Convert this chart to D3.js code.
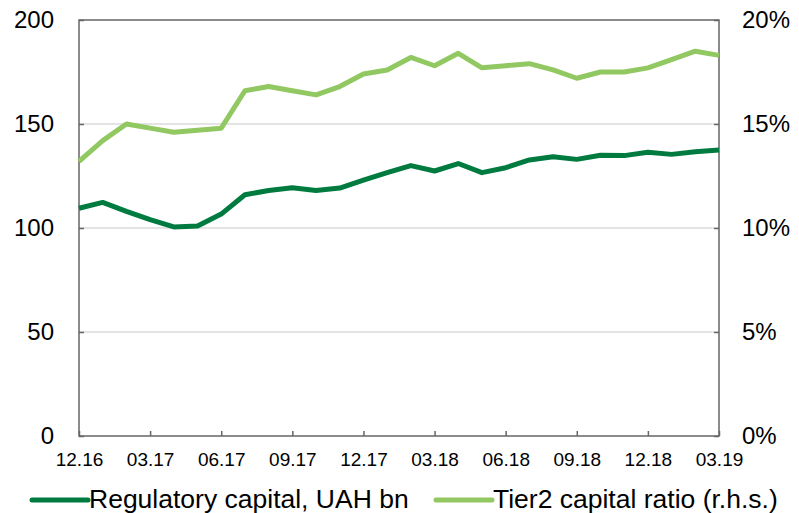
<!DOCTYPE html>
<html>
<head>
<meta charset="utf-8">
<script src="https://cdn.jsdelivr.net/npm/d3@7"></script>
<style>
  body { margin: 0; background: #fff; }
  svg { display: block; }
</style>
</head>
<body>
<svg id="chart"></svg>
<script>
const width = 799;
const height = 513;
const margin = {top: 20, right: 80, bottom: 77, left: 79};

// monthly, 12.16 .. 03.19
const months = ['12.16','01.17','02.17','03.17','04.17','05.17','06.17','07.17','08.17','09.17','10.17','11.17',
  '12.17','01.18','02.18','03.18','04.18','05.18','06.18','07.18','08.18','09.18','10.18','11.18',
  '12.18','01.19','02.19','03.19'];
const capital = [109.5, 112.3, 108, 104, 100.5, 101, 106.7, 116, 118, 119.4, 118, 119.2,
  123, 126.6, 130, 127.4, 131, 126.6, 129, 132.7, 134.3, 133, 135, 134.8,
  136.4, 135.4, 136.7, 137.5];
const ratio = [13.2, 14.2, 15.0, 14.8, 14.6, 14.7, 14.8, 16.6, 16.8, 16.6, 16.4, 16.8,
  17.4, 17.6, 18.2, 17.8, 18.4, 17.7, 17.8, 17.9, 17.6, 17.2, 17.5, 17.5,
  17.7, 18.1, 18.5, 18.3];
const leftTicks = [0, 50, 100, 150, 200];
const rightTicks = [0, 5, 10, 15, 20];
const xLabels = ['12.16','03.17','06.17','09.17','12.17','03.18','06.18','09.18','12.18','03.19'];

const svg = d3.select('#chart').attr('width', width).attr('height', height);

const x = d3.scalePoint().domain(months).range([margin.left, width - margin.right]);
const y = d3.scaleLinear().domain([0, 200]).range([height - margin.bottom, margin.top]);
const y2 = d3.scaleLinear().domain([0, 20]).range([height - margin.bottom, margin.top]);

// gridlines
svg.append('g')
  .selectAll('line')
  .data(leftTicks.filter(d => d > 0 && d < 200))
  .enter().append('line')
  .attr('x1', margin.left).attr('x2', width - margin.right)
  .attr('y1', d => y(d)).attr('y2', d => y(d))
  .attr('stroke', '#c8c8c8').attr('stroke-width', 1);

// frame
svg.append('rect')
  .attr('x', margin.left).attr('y', margin.top)
  .attr('width', width - margin.left - margin.right)
  .attr('height', height - margin.top - margin.bottom)
  .attr('fill', 'none').attr('stroke', '#666').attr('stroke-width', 1.5);

// left axis
const yAxis = svg.append('g')
  .attr('transform', `translate(${margin.left},0)`)
  .call(d3.axisLeft(y).tickValues(leftTicks).tickSize(-5).tickPadding(25));
// right axis
const y2Axis = svg.append('g')
  .attr('transform', `translate(${width - margin.right},0)`)
  .call(d3.axisRight(y2).tickValues(rightTicks).tickSize(-5).tickPadding(23).tickFormat(d => d + '%'));
// bottom axis
const xAxis = svg.append('g')
  .attr('transform', `translate(0,${height - margin.bottom})`)
  .call(d3.axisBottom(x).tickValues(xLabels).tickSize(-5).tickPadding(17));

[yAxis, y2Axis].forEach(a => {
  a.select('.domain').remove();
  a.selectAll('line').attr('stroke', '#666').attr('stroke-width', 1.5);
  a.selectAll('text').attr('font-family', 'Liberation Sans, Arial, sans-serif')
    .attr('font-size', 24).attr('fill', '#000');
});
xAxis.select('.domain').remove();
xAxis.selectAll('line').attr('stroke', '#666').attr('stroke-width', 1.5);
xAxis.selectAll('text').attr('font-family', 'Liberation Sans, Arial, sans-serif')
  .attr('font-size', 19).attr('fill', '#000');

const darkGreen = '#007b40';
const lightGreen = '#92c862';

svg.append('path')
  .datum(ratio)
  .attr('fill', 'none')
  .attr('stroke', lightGreen)
  .attr('stroke-width', 5)
  .attr('stroke-linejoin', 'round')
  .attr('d', d3.line().x((d, i) => x(months[i])).y(d => y2(d)));

svg.append('path')
  .datum(capital)
  .attr('fill', 'none')
  .attr('stroke', darkGreen)
  .attr('stroke-width', 5)
  .attr('stroke-linejoin', 'round')
  .attr('d', d3.line().x((d, i) => x(months[i])).y(d => y(d)));

// legend
const legend = [
  {name: 'Regulatory capital, UAH bn', color: darkGreen, x: 32},
  {name: 'Tier2 capital ratio (r.h.s.)', color: lightGreen, x: 436}
];
const lg = svg.append('g').selectAll('g').data(legend).enter().append('g')
  .attr('transform', d => `translate(${d.x},500)`);
lg.append('line').attr('x1', 0).attr('x2', 56).attr('y1', 0).attr('y2', 0)
  .attr('stroke', d => d.color).attr('stroke-width', 5).attr('stroke-linecap', 'round');
lg.append('text').attr('x', 57).attr('y', -1).attr('dy', '0.35em')
  .attr('font-family', 'Liberation Sans, Arial, sans-serif')
  .attr('font-size', 26.5).attr('fill', '#000')
  .text(d => d.name);
</script>
</body>
</html>
